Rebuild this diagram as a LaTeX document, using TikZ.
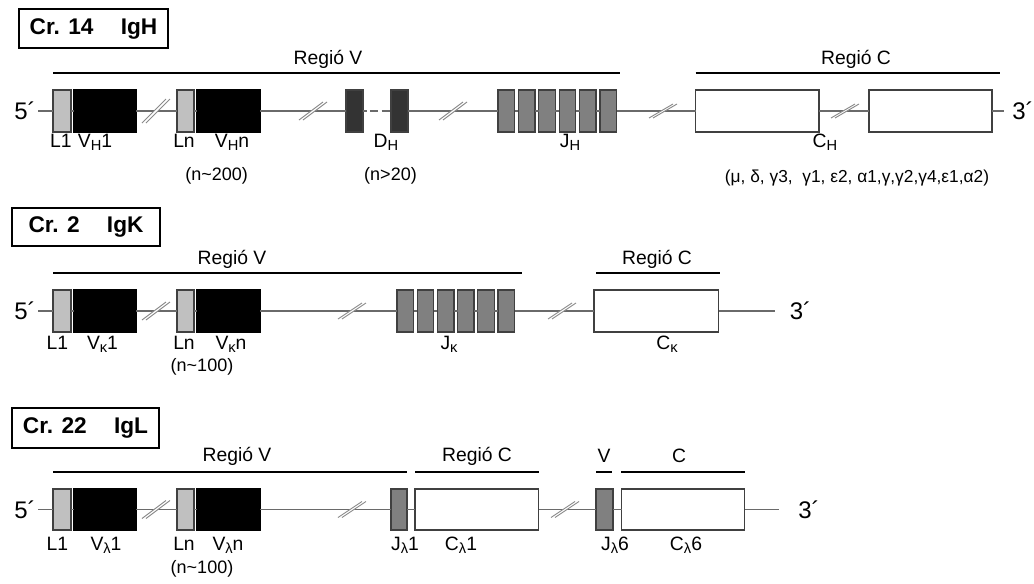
\documentclass[tikz,border=0pt]{standalone}
\usepackage{fontspec}
\setmainfont{Liberation Sans}
\usetikzlibrary{fit}
\definecolor{bbgray}{HTML}{6A6A6A}
\definecolor{boxedge}{HTML}{404040}
\definecolor{lgray}{HTML}{C0C0C0}
\definecolor{dgray}{HTML}{333333}
\definecolor{mgray}{HTML}{808080}
\definecolor{brkgray}{HTML}{8A8A8A}
\newcommand\sub[1]{\raisebox{-0.35ex}{\fontsize{11}{11}\selectfont #1}}
\newcommand\brkmark[4]{%
  \fill[white] ({#1-#3-2},{#2+#4}) -- ({#1-#3+2},{#2+#4}) -- ({#1+#3+2},{#2-#4}) -- ({#1+#3-2},{#2-#4}) -- cycle;
  \draw[brk] ({#1-#3-2},{#2+#4}) -- ({#1+#3-2},{#2-#4});
  \draw[brk] ({#1-#3+2},{#2+#4}) -- ({#1+#3+2},{#2-#4});
}
\begin{document}
\begin{tikzpicture}[x=0.75pt,y=-0.75pt,
  bb/.style={draw=bbgray, line width=1.4pt},
  brk/.style={draw=brkgray, line width=0.7pt},
  boxbase/.style={draw=boxedge, line width=1pt, inner sep=0pt, outer sep=0pt},
  lbox/.style={boxbase, fill=lgray},
  vbox/.style={boxbase, fill=black, draw=black},
  dbox/.style={boxbase, fill=dgray},
  jbox/.style={boxbase, fill=mgray},
  cbox/.style={boxbase, fill=white},
  reg/.style={draw=black, line width=2.2pt},
  regtxt/.style={font=\fontsize{14.5}{16}\selectfont, inner sep=0pt},
  lab/.style={font=\fontsize{14.5}{16}\selectfont, anchor=base, inner sep=0pt},
  small/.style={font=\fontsize{13.5}{14}\selectfont, inner sep=0pt},
  listtxt/.style={font=\fontsize{13}{14}\selectfont, inner sep=0pt},
  titlebox/.style={draw=black, line width=0.8pt, inner sep=0pt},
  titletxt/.style={inner sep=0pt, font=\bfseries\fontsize{17}{18}\selectfont},
  endtxt/.style={font=\fontsize{18}{20}\selectfont, inner sep=0pt},
  ]
\useasboundingbox (0,0) rectangle (1034,583);

%================ Row 1: IgH =================
\node[titlebox, fit={(19,9) (168,48)}] (t1) {};
\node[titletxt] (t1txt) at (t1.center) {Cr. 14\hspace{1.2em}IgH};
\node[regtxt] (h_rv) at (328,59.5) {Regió V};
\node[regtxt] (h_rc) at (856,59.5) {Regió C};
\coordinate (h_rv1) at (53,73); \coordinate (h_rv2) at (620,73);
\coordinate (h_rc1) at (695.5,73); \coordinate (h_rc2) at (1000,73);
\draw[reg] (h_rv1) -- (h_rv2);
\draw[reg] (h_rc1) -- (h_rc2);

\node[endtxt, anchor=east] (h5) at (36,111) {5´};
\coordinate (hs) at (38,111);
\coordinate (he) at (1004,111);
\node[endtxt, anchor=west] (h3) at (1012,111) {3´};

\node[lbox, fit={(53,90) (71,132)}] (hL1) {};
\node[vbox, fit={(74,90) (136,132)}] (hV1) {};
\node[lbox, fit={(177,90) (194,132)}] (hLn) {};
\node[vbox, fit={(197,90) (260,132)}] (hVn) {};
\node[dbox, fit={(346,90) (363,132)}] (hD1) {};
\node[dbox, fit={(391,90) (408,132)}] (hD2) {};
\foreach \i in {0,...,5} {
  \node[jbox, fit={({498+20.4*\i},90) ({514.5+20.4*\i},132)}] (hJ\i) {};
}
\node[cbox, fit={(695.5,90) (819,132)}] (hC1) {};
\node[cbox, fit={(869,90) (992,132)}] (hC2) {};

\draw[bb] (hs) -- (hL1.west);
\draw[bb] (hL1.east) -- (hV1.west);
\draw[bb] (hV1.east) -- (hLn.west);
\draw[bb] (hLn.east) -- (hVn.west);
\draw[bb] (hVn.east) -- (hD1.west);
\draw[bb, dash pattern=on 6pt off 2.5pt, dash phase=3pt] (hD1.east) -- (hD2.west);
\draw[bb] (hD2.east) -- (hJ0.west);
\foreach \i [evaluate=\i as \j using int(\i+1)] in {0,...,4} {
  \draw[bb] (hJ\i.east) -- (hJ\j.west);
}
\draw[bb] (hJ5.east) -- (hC1.west);
\draw[bb] (hC1.east) -- (hC2.west);
\draw[bb] (hC2.east) -- (he);
\brkmark{156}{111}{12}{12}
\brkmark{313}{111}{12}{9}
\brkmark{453}{111}{12}{9}
\brkmark{663}{111}{12}{7}
\brkmark{845}{111}{12}{7}

\node[lab] (hlL1) at (61,147) {L1};
\node[lab] (hlV1) at (95,147) {V\sub{H}1};
\node[lab] (hlLn) at (184,147) {Ln};
\node[lab] (hlVn) at (232,147) {V\sub{H}n};
\node[lab] (hlD) at (386,147) {D\sub{H}};
\node[lab] (hlJ) at (570,147) {J\sub{H}};
\node[lab] (hlC) at (825,147) {C\sub{H}};
\node[small] (hn1) at (216.7,176) {(n\textasciitilde200)};
\node[small] (hn2) at (390.5,176) {(n>20)};
\node[listtxt] (hlist) at (857,178) {(μ, δ, γ3,\ \ γ1, ε2, α1,γ,γ2,γ4,ε1,α2)};

%================ Row 2: IgK =================
\node[titlebox, fit={(12,208) (160,246)}] (t2) {};
\node[titletxt] (t2txt) at (t2.center) {Cr. 2\hspace{1.2em}IgK};
\node[regtxt] (k_rv) at (232,259) {Regió V};
\node[regtxt] (k_rc) at (657,259) {Regió C};
\coordinate (k_rv1) at (53,273); \coordinate (k_rv2) at (522,273);
\coordinate (k_rc1) at (596,273); \coordinate (k_rc2) at (720,273);
\draw[reg] (k_rv1) -- (k_rv2);
\draw[reg] (k_rc1) -- (k_rc2);

\node[endtxt, anchor=east] (k5) at (36,311) {5´};
\coordinate (ks) at (38,311);
\coordinate (ke) at (775,311);
\node[endtxt, anchor=west] (k3) at (789.5,311) {3´};

\node[lbox, fit={(53,290) (71,332)}] (kL1) {};
\node[vbox, fit={(74,290) (136,332)}] (kV1) {};
\node[lbox, fit={(177,290) (194,332)}] (kLn) {};
\node[vbox, fit={(197,290) (260,332)}] (kVn) {};
\foreach \i in {0,...,5} {
  \node[jbox, fit={({397+20.2*\i},290) ({413.5+20.2*\i},332)}] (kJ\i) {};
}
\node[cbox, fit={(594,290) (718.7,332)}] (kC) {};

\draw[bb] (ks) -- (kL1.west);
\draw[bb] (kL1.east) -- (kV1.west);
\draw[bb] (kV1.east) -- (kLn.west);
\draw[bb] (kLn.east) -- (kVn.west);
\draw[bb] (kVn.east) -- (kJ0.west);
\foreach \i [evaluate=\i as \j using int(\i+1)] in {0,...,4} {
  \draw[bb] (kJ\i.east) -- (kJ\j.west);
}
\draw[bb] (kJ5.east) -- (kC.west);
\draw[bb] (kC.east) -- (ke);
\brkmark{156}{311}{12}{9}
\brkmark{352}{311}{12}{8}
\brkmark{562}{311}{12}{8}

\node[lab] (klL1) at (57.5,349) {L1};
\node[lab] (klV1) at (102.5,349) {V\sub{κ}1};
\node[lab] (klLn) at (184,349) {Ln};
\node[lab] (klVn) at (231,349) {V\sub{κ}n};
\node[lab] (klJ) at (449,349) {J\sub{κ}};
\node[lab] (klC) at (667,349) {C\sub{κ}};
\node[small] (kn1) at (202,367) {(n\textasciitilde100)};

%================ Row 3: IgL =================
\node[titlebox, fit={(12,408) (159,448)}] (t3) {};
\node[titletxt] (t3txt) at (t3.center) {Cr. 22\hspace{1.2em}IgL};
\node[regtxt] (l_rv) at (237,456) {Regió V};
\node[regtxt] (l_rc) at (477,456) {Regió C};
\node[regtxt] (l_v) at (604,456) {V};
\node[regtxt] (l_c) at (679,456) {C};
\coordinate (l_rv1) at (53,472); \coordinate (l_rv2) at (407,472);
\coordinate (l_rc1) at (415,472); \coordinate (l_rc2) at (538.5,472);
\coordinate (l_v1) at (596,472); \coordinate (l_v2) at (612.4,472);
\coordinate (l_c1) at (621,472); \coordinate (l_c2) at (744.5,472);
\draw[reg] (l_rv1) -- (l_rv2);
\draw[reg] (l_rc1) -- (l_rc2);
\draw[reg] (l_v1) -- (l_v2);
\draw[reg] (l_c1) -- (l_c2);

\node[endtxt, anchor=east] (l5) at (36,509.5) {5´};
\coordinate (ls) at (38,509.5);
\coordinate (le) at (778.6,509.5);
\node[endtxt, anchor=west] (l3) at (798,509.5) {3´};

\node[lbox, fit={(53,489) (71,530)}] (lL1) {};
\node[vbox, fit={(74,489) (136,530)}] (lV1) {};
\node[lbox, fit={(177,489) (194,530)}] (lLn) {};
\node[vbox, fit={(197,489) (260,530)}] (lVn) {};
\node[jbox, fit={(391,489) (407,530)}] (lJ1) {};
\node[cbox, fit={(415,489) (538.5,530)}] (lC1) {};
\node[jbox, fit={(596,489) (613,530)}] (lJ6) {};
\node[cbox, fit={(621.6,489) (744.5,530)}] (lC6) {};

\draw[bb] (ls) -- (lL1.west);
\draw[bb] (lL1.east) -- (lV1.west);
\draw[bb] (lV1.east) -- (lLn.west);
\draw[bb] (lLn.east) -- (lVn.west);
\draw[bb] (lVn.east) -- (lJ1.west);
\draw[bb] (lJ1.east) -- (lC1.west);
\draw[bb] (lC1.east) -- (lJ6.west);
\draw[bb] (lJ6.east) -- (lC6.west);
\draw[bb] (lC6.east) -- (le);
\brkmark{156}{509.5}{12}{9}
\brkmark{352}{509.5}{12}{8}
\brkmark{565}{509.5}{12}{8}

\node[lab] (llL1) at (57.5,550) {L1};
\node[lab] (llV1) at (106,550) {V\sub{λ}1};
\node[lab] (llLn) at (184,550) {Ln};
\node[lab] (llVn) at (228,550) {V\sub{λ}n};
\node[lab] (llJ1) at (405,550) {J\sub{λ}1};
\node[lab] (llC1) at (461,550) {C\sub{λ}1};
\node[lab] (llJ6) at (615,550) {J\sub{λ}6};
\node[lab] (llC6) at (686,550) {C\sub{λ}6};
\node[small] (ln1) at (202,569) {(n\textasciitilde100)};
\end{tikzpicture}
\end{document}
